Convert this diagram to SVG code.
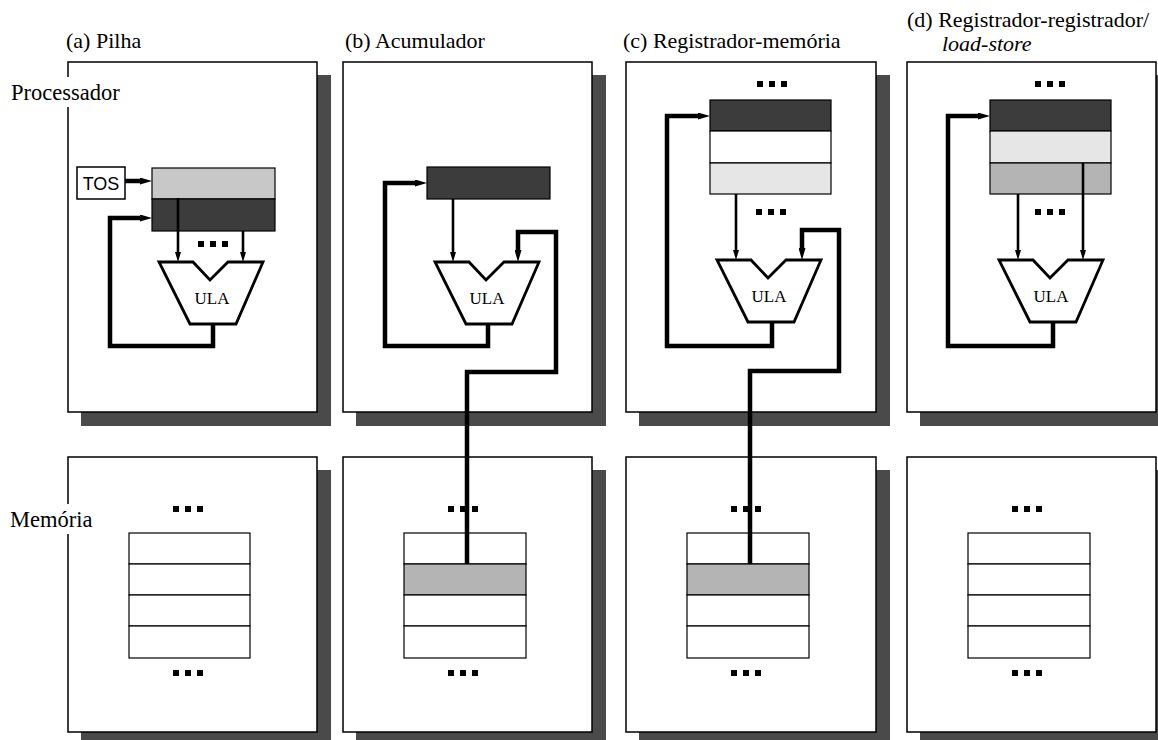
<svg xmlns="http://www.w3.org/2000/svg" width="1158" height="740" viewBox="0 0 1158 740">
<defs>
<style>
.shadow{fill:#4a4a4a}
.box{fill:#fff;stroke:#000;stroke-width:1.5}
.thick{fill:none;stroke:#000;stroke-width:4.5;stroke-linejoin:miter}
.thin{fill:none;stroke:#000;stroke-width:2.6}
.alu{fill:#fff;stroke:#000;stroke-width:2.8;stroke-linejoin:miter}
.reg{stroke:#000;stroke-width:1.2}
.dark{fill:#3c3c3c}
.mid{fill:#b4b4b4}
.light{fill:#e6e6e6}
.lightA{fill:#c8c8c8}
.white{fill:#fff}
.dot{fill:#000}
.title{font-size:22px;fill:#000}
.side{font-size:22.5px;fill:#000}
.ula{font-size:17px;fill:#000;text-anchor:middle}
.tos{font-size:18px;fill:#000;text-anchor:middle}
</style>
<marker id="ahThin" markerUnits="userSpaceOnUse" markerWidth="10" markerHeight="6" refX="0" refY="3" orient="auto">
<path d="M0,0 L10,3 L0,6 z" fill="#000"/>
</marker>
<marker id="ahThick" markerUnits="userSpaceOnUse" markerWidth="12" markerHeight="7" refX="0" refY="3.5" orient="auto">
<path d="M0,0 L12,3.5 L0,7 z" fill="#000"/>
</marker>
<path id="aluShape" d="M0,0 H34 L51,18 L69,0 H104 L77,62 H31 Z"/>
<g id="dots"><rect x="0" y="0" width="6" height="6"/><rect x="12" y="0" width="6" height="6"/><rect x="24" y="0" width="6" height="6"/></g>
</defs>
<rect width="1158" height="740" fill="#fff"/>

<!-- titles -->
<g id="titles" font-family="'Liberation Serif', 'Times New Roman', serif">
<text class="title" x="66" y="48">(a) Pilha</text>
<text class="title" x="345" y="48">(b) Acumulador</text>
<text class="title" x="623" y="48">(c) Registrador-memória</text>
<text class="title" x="907" y="27">(d) Registrador-registrador/</text>
<text class="title" x="942" y="51" font-style="italic">load-store</text>
</g>

<!-- processor boxes -->
<g id="proc-a">
<rect class="shadow" x="81" y="75" width="250" height="351"/>
<rect class="box" x="68" y="62" width="249" height="350"/>
</g>
<g id="proc-b">
<rect class="shadow" x="356" y="75" width="250" height="351"/>
<rect class="box" x="343" y="62" width="249" height="350"/>
</g>
<g id="proc-c">
<rect class="shadow" x="639" y="75" width="251" height="351"/>
<rect class="box" x="626" y="62" width="250" height="350"/>
</g>
<g id="proc-d">
<rect class="shadow" x="920" y="75" width="251" height="351"/>
<rect class="box" x="907" y="62" width="249" height="350"/>
</g>

<!-- memory boxes -->
<g id="mem-a">
<rect class="shadow" x="81" y="470" width="250" height="276"/>
<rect class="box" x="68" y="457" width="249" height="275"/>
<use href="#dots" class="dot" x="173" y="506"/>
<rect class="reg white" x="129" y="533" width="121" height="31"/>
<rect class="reg white" x="129" y="564" width="121" height="31"/>
<rect class="reg white" x="129" y="595" width="121" height="31"/>
<rect class="reg white" x="129" y="626" width="121" height="32"/>
<use href="#dots" class="dot" x="173" y="670"/>
</g>
<g id="mem-b">
<rect class="shadow" x="356" y="470" width="250" height="276"/>
<rect class="box" x="343" y="457" width="249" height="275"/>
<use href="#dots" class="dot" x="448" y="506"/>
<rect class="reg white" x="404" y="533" width="122" height="31"/>
<rect class="reg mid" x="404" y="564" width="122" height="31"/>
<rect class="reg white" x="404" y="595" width="122" height="31"/>
<rect class="reg white" x="404" y="626" width="122" height="32"/>
<use href="#dots" class="dot" x="448" y="670"/>
</g>
<g id="mem-c">
<rect class="shadow" x="639" y="470" width="251" height="276"/>
<rect class="box" x="626" y="457" width="250" height="275"/>
<use href="#dots" class="dot" x="731" y="506"/>
<rect class="reg white" x="687" y="533" width="122" height="31"/>
<rect class="reg mid" x="687" y="564" width="122" height="31"/>
<rect class="reg white" x="687" y="595" width="122" height="31"/>
<rect class="reg white" x="687" y="626" width="122" height="32"/>
<use href="#dots" class="dot" x="731" y="670"/>
</g>
<g id="mem-d">
<rect class="shadow" x="920" y="470" width="251" height="276"/>
<rect class="box" x="907" y="457" width="249" height="275"/>
<use href="#dots" class="dot" x="1012" y="506"/>
<rect class="reg white" x="968" y="533" width="122" height="31"/>
<rect class="reg white" x="968" y="564" width="122" height="31"/>
<rect class="reg white" x="968" y="595" width="122" height="31"/>
<rect class="reg white" x="968" y="626" width="122" height="32"/>
<use href="#dots" class="dot" x="1012" y="670"/>
</g>

<!-- side labels -->
<g id="label-processador" font-family="'Liberation Serif', 'Times New Roman', serif">
<rect x="8" y="77" width="122" height="30" fill="#fff"/>
<text class="side" x="11" y="100">Processador</text>
</g>
<g id="label-memoria" font-family="'Liberation Serif', 'Times New Roman', serif">
<rect x="8" y="504" width="88" height="30" fill="#fff"/>
<text class="side" x="10" y="527">Memória</text>
</g>

<!-- (a) pilha -->
<g id="tos-a" font-family="'Liberation Sans', Arial, sans-serif">
<rect x="77" y="167" width="48" height="32" fill="#fff" stroke="#000" stroke-width="1.5"/>
<text class="tos" x="101" y="190">TOS</text>
</g>
<g id="reg-a">
<rect class="reg lightA" x="152" y="168" width="123" height="31"/>
<rect class="reg dark" x="152" y="199" width="123" height="32"/>
<use href="#dots" class="dot" x="198" y="241"/>
</g>
<g id="alu-a" font-family="'Liberation Serif', 'Times New Roman', serif">
<use href="#aluShape" class="alu" x="159" y="262"/>
<text class="ula" x="212" y="304">ULA</text>
</g>

<!-- (b) acumulador -->
<g id="reg-b">
<rect class="reg dark" x="427" y="167" width="123" height="32"/>
</g>
<g id="alu-b" font-family="'Liberation Serif', 'Times New Roman', serif">
<use href="#aluShape" class="alu" x="435" y="262"/>
<text class="ula" x="487" y="304">ULA</text>
</g>

<!-- (c) registrador-memoria -->
<g id="reg-c">
<use href="#dots" class="dot" x="757" y="81"/>
<rect class="reg dark" x="710" y="100" width="121" height="31"/>
<rect class="reg white" x="710" y="131" width="121" height="32"/>
<rect class="reg light" x="710" y="163" width="121" height="31"/>
<use href="#dots" class="dot" x="756" y="209"/>
</g>
<g id="alu-c" font-family="'Liberation Serif', 'Times New Roman', serif">
<use href="#aluShape" class="alu" x="717" y="260"/>
<text class="ula" x="769" y="302">ULA</text>
</g>

<!-- (d) registrador-registrador -->
<g id="reg-d">
<use href="#dots" class="dot" x="1035" y="81"/>
<rect class="reg dark" x="990" y="100" width="121" height="31"/>
<rect class="reg light" x="990" y="131" width="121" height="32"/>
<rect class="reg mid" x="990" y="163" width="121" height="31"/>
<use href="#dots" class="dot" x="1035" y="209"/>
</g>
<g id="alu-d" font-family="'Liberation Serif', 'Times New Roman', serif">
<use href="#aluShape" class="alu" x="999" y="260"/>
<text class="ula" x="1051" y="302">ULA</text>
</g>

<!-- connectors -->
<g id="connectors">
<!-- (a) -->
<path class="thick" d="M125,181 H140" marker-end="url(#ahThick)"/>
<path class="thick" d="M213,323 V346 H110 V218 H140" marker-end="url(#ahThick)"/>
<path class="thin" d="M178,198 V252" marker-end="url(#ahThin)"/>
<path class="thin" d="M243,231 V252" marker-end="url(#ahThin)"/>
<!-- (b) -->
<path class="thick" d="M488,323 V346 H385 V183 H415" marker-end="url(#ahThick)"/>
<path class="thin" d="M453,199 V252" marker-end="url(#ahThin)"/>
<path class="thick" d="M467,564 V372 H556 V232 H518 V250" marker-end="url(#ahThick)"/>
<!-- (c) -->
<path class="thick" d="M772,321 V346 H667 V116 H698" marker-end="url(#ahThick)"/>
<path class="thin" d="M736,194 V250" marker-end="url(#ahThin)"/>
<path class="thick" d="M750,564 V371 H839 V230 H802 V248" marker-end="url(#ahThick)"/>
<!-- (d) -->
<path class="thick" d="M1053,321 V346 H948 V116 H978" marker-end="url(#ahThick)"/>
<path class="thin" d="M1018,194 V250" marker-end="url(#ahThin)"/>
<path class="thin" d="M1083,163 V250" marker-end="url(#ahThin)"/>
</g>
</svg>
